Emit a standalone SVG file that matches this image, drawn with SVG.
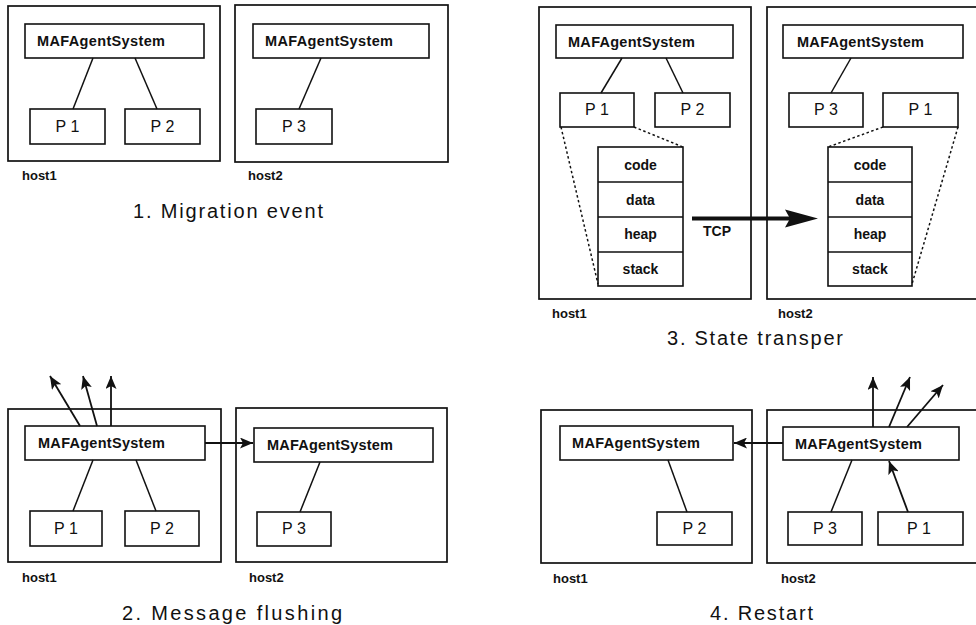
<svg xmlns="http://www.w3.org/2000/svg" width="976" height="625" viewBox="0 0 976 625">
  <style>
    .box { fill: #fff; stroke: #111; stroke-width: 1.6; }
    .host { fill: none; stroke: #111; stroke-width: 1.7; }
    .link { stroke: #111; stroke-width: 1.5; fill: none; }
    .arrow { stroke: #111; stroke-width: 1.8; fill: none; marker-end: url(#head); }
    .dot { stroke: #111; stroke-width: 1.5; fill: none; stroke-dasharray: 2.5 2.5; }
    .mas { font-family: "Liberation Sans", Arial, sans-serif; font-size: 14.5px; font-weight: bold; fill: #111; }
    .proc { font-family: "Liberation Sans", Arial, sans-serif; font-size: 16px; fill: #111; text-anchor: middle; }
    .seg { font-family: "Liberation Sans", Arial, sans-serif; font-size: 14px; font-weight: bold; fill: #111; text-anchor: middle; }
    .hostlbl { font-family: "Liberation Sans", Arial, sans-serif; font-size: 13px; font-weight: bold; fill: #111; }
    .cap { font-family: "Liberation Sans", Arial, sans-serif; font-size: 20px; fill: #111; }
  </style>
  <defs>
    <marker id="head" viewBox="0 0 13 11" refX="13" refY="5.5" markerWidth="13" markerHeight="11" markerUnits="userSpaceOnUse" orient="auto">
      <path d="M0,0 L13,5.5 L0,11 L3,5.5 z" fill="#111"/>
    </marker>
  </defs>
  <rect x="0" y="0" width="976" height="625" fill="#fff"/>

  <!-- 1. Migration event -->
  <g id="s1-host1">
    <rect class="host" x="8" y="6" width="212" height="155"/>
    <text class="hostlbl" x="22" y="180">host1</text>
  </g>
  <g id="s1-host1-mas">
    <rect class="box" x="25" y="24" width="179" height="34"/>
    <text class="mas" x="37" y="46" textLength="128" lengthAdjust="spacing">MAFAgentSystem</text>
  </g>
  <g id="s1-host1-p1">
    <rect class="box" x="30" y="109" width="75" height="35"/>
    <text class="proc" x="67.5" y="132" textLength="24" lengthAdjust="spacing">P1</text>
  </g>
  <g id="s1-host1-p2">
    <rect class="box" x="125" y="109" width="75" height="35"/>
    <text class="proc" x="162.5" y="132" textLength="24" lengthAdjust="spacing">P2</text>
  </g>
  <g id="s1-host2">
    <rect class="host" x="235" y="5" width="213" height="157"/>
    <text class="hostlbl" x="248" y="180">host2</text>
  </g>
  <g id="s1-host2-mas">
    <rect class="box" x="253" y="24" width="176" height="34"/>
    <text class="mas" x="265" y="46" textLength="128" lengthAdjust="spacing">MAFAgentSystem</text>
  </g>
  <g id="s1-host2-p3">
    <rect class="box" x="256" y="109" width="76" height="35"/>
    <text class="proc" x="294" y="132" textLength="24" lengthAdjust="spacing">P3</text>
  </g>
  <text class="cap" x="133" y="218" textLength="190" lengthAdjust="spacing">1. Migration event</text>

  <!-- 3. State transfer -->
  <g id="s3-host1">
    <rect class="host" x="539" y="7" width="212" height="292"/>
    <text class="hostlbl" x="552" y="318">host1</text>
  </g>
  <g id="s3-host1-mas">
    <rect class="box" x="556" y="25" width="177" height="33"/>
    <text class="mas" x="568" y="47" textLength="127" lengthAdjust="spacing">MAFAgentSystem</text>
  </g>
  <g id="s3-host1-p1">
    <rect class="box" x="560" y="93" width="74" height="34"/>
    <text class="proc" x="597" y="115" textLength="24" lengthAdjust="spacing">P1</text>
  </g>
  <g id="s3-host1-p2">
    <rect class="box" x="655" y="93" width="75" height="34"/>
    <text class="proc" x="692.5" y="115" textLength="24" lengthAdjust="spacing">P2</text>
  </g>
  <g id="s3-host1-image">
    <rect class="box" x="598" y="147" width="85" height="139"/>
    <path class="link" d="M598,182 H683 M598,217 H683 M598,252 H683"/>
    <text class="seg" x="640.5" y="170">code</text>
    <text class="seg" x="640.5" y="205">data</text>
    <text class="seg" x="640.5" y="239">heap</text>
    <text class="seg" x="640.5" y="274">stack</text>
  </g>
  <g id="s3-host2">
    <rect class="host" x="767" y="7" width="220" height="292"/>
    <text class="hostlbl" x="778" y="318">host2</text>
  </g>
  <g id="s3-host2-mas">
    <rect class="box" x="783" y="25" width="180" height="33"/>
    <text class="mas" x="797" y="47" textLength="127" lengthAdjust="spacing">MAFAgentSystem</text>
  </g>
  <g id="s3-host2-p3">
    <rect class="box" x="789" y="93" width="74" height="34"/>
    <text class="proc" x="826" y="115" textLength="24" lengthAdjust="spacing">P3</text>
  </g>
  <g id="s3-host2-p1">
    <rect class="box" x="883" y="93" width="75" height="34"/>
    <text class="proc" x="920.5" y="115" textLength="24" lengthAdjust="spacing">P1</text>
  </g>
  <g id="s3-host2-image">
    <rect class="box" x="828" y="147" width="84" height="139"/>
    <path class="link" d="M828,182 H912 M828,217 H912 M828,252 H912"/>
    <text class="seg" x="870" y="170">code</text>
    <text class="seg" x="870" y="205">data</text>
    <text class="seg" x="870" y="239">heap</text>
    <text class="seg" x="870" y="274">stack</text>
  </g>
  <text class="cap" x="667" y="345" textLength="176" lengthAdjust="spacing">3. State transper</text>

  <!-- 2. Message flushing -->
  <g id="s2-host1">
    <rect class="host" x="8" y="409" width="213" height="153"/>
    <text class="hostlbl" x="22" y="582">host1</text>
  </g>
  <g id="s2-host1-mas">
    <rect class="box" x="25" y="426" width="180" height="34"/>
    <text class="mas" x="38" y="448" textLength="127" lengthAdjust="spacing">MAFAgentSystem</text>
  </g>
  <g id="s2-host1-p1">
    <rect class="box" x="30" y="511" width="72" height="35"/>
    <text class="proc" x="66" y="534" textLength="24" lengthAdjust="spacing">P1</text>
  </g>
  <g id="s2-host1-p2">
    <rect class="box" x="125" y="511" width="74" height="35"/>
    <text class="proc" x="162" y="534" textLength="24" lengthAdjust="spacing">P2</text>
  </g>
  <g id="s2-host2">
    <rect class="host" x="236" y="408" width="211" height="154"/>
    <text class="hostlbl" x="249" y="582">host2</text>
  </g>
  <g id="s2-host2-mas">
    <rect class="box" x="254" y="428" width="179" height="34"/>
    <text class="mas" x="267" y="450" textLength="126" lengthAdjust="spacing">MAFAgentSystem</text>
  </g>
  <g id="s2-host2-p3">
    <rect class="box" x="257" y="512" width="74" height="34"/>
    <text class="proc" x="294" y="534" textLength="24" lengthAdjust="spacing">P3</text>
  </g>
  <text class="cap" x="122" y="620" textLength="220" lengthAdjust="spacing">2. Message flushing</text>

  <!-- 4. Restart -->
  <g id="s4-host1">
    <rect class="host" x="541" y="410" width="211" height="153"/>
    <text class="hostlbl" x="553" y="583">host1</text>
  </g>
  <g id="s4-host1-mas">
    <rect class="box" x="560" y="426" width="173" height="34"/>
    <text class="mas" x="572" y="448" textLength="128" lengthAdjust="spacing">MAFAgentSystem</text>
  </g>
  <g id="s4-host1-p2">
    <rect class="box" x="657" y="512" width="75" height="33"/>
    <text class="proc" x="694.5" y="534" textLength="24" lengthAdjust="spacing">P2</text>
  </g>
  <g id="s4-host2">
    <rect class="host" x="767" y="410" width="220" height="153"/>
    <text class="hostlbl" x="781" y="583">host2</text>
  </g>
  <g id="s4-host2-mas">
    <rect class="box" x="783" y="427" width="176" height="33"/>
    <text class="mas" x="795" y="449" textLength="127" lengthAdjust="spacing">MAFAgentSystem</text>
  </g>
  <g id="s4-host2-p3">
    <rect class="box" x="788" y="512" width="74" height="33"/>
    <text class="proc" x="825" y="534" textLength="24" lengthAdjust="spacing">P3</text>
  </g>
  <g id="s4-host2-p1">
    <rect class="box" x="878" y="512" width="85" height="33"/>
    <text class="proc" x="919" y="534" textLength="24" lengthAdjust="spacing">P1</text>
  </g>
  <text class="cap" x="710" y="620" textLength="103" lengthAdjust="spacing">4. Restart</text>

  <!-- connectors -->
  <g id="connectors">
    <!-- 1 -->
    <line class="link" x1="93" y1="58" x2="73" y2="109"/>
    <line class="link" x1="135" y1="58" x2="157" y2="109"/>
    <line class="link" x1="321" y1="58" x2="299" y2="109"/>
    <!-- 3 -->
    <line class="link" x1="622" y1="58" x2="601" y2="93"/>
    <line class="link" x1="666" y1="58" x2="683" y2="93"/>
    <line class="link" x1="851" y1="58" x2="831" y2="93"/>
    <line class="dot" x1="561" y1="127" x2="598" y2="284"/>
    <line class="dot" x1="634" y1="127" x2="683" y2="147"/>
    <line class="dot" x1="883" y1="127" x2="828" y2="147"/>
    <line class="dot" x1="958" y1="127" x2="912" y2="284"/>
    <line x1="692" y1="218.5" x2="790" y2="218.5" stroke="#111" stroke-width="4"/>
    <polygon points="785,209.5 818,218.5 785,227.5 790,218.5" fill="#111"/>
    <text class="seg" x="717" y="236">TCP</text>
    <!-- 2 -->
    <line class="link" x1="93" y1="460" x2="73" y2="511"/>
    <line class="link" x1="136" y1="460" x2="156" y2="511"/>
    <line class="link" x1="320" y1="462" x2="300" y2="512"/>
    <line class="arrow" x1="80" y1="426" x2="50" y2="376"/>
    <line class="arrow" x1="97" y1="426" x2="83" y2="376"/>
    <line class="arrow" x1="111" y1="426" x2="111" y2="376"/>
    <line class="arrow" x1="205" y1="443" x2="253" y2="443"/>
    <!-- 4 -->
    <line class="link" x1="668" y1="460" x2="687" y2="512"/>
    <line class="link" x1="852" y1="460" x2="831" y2="512"/>
    <line class="arrow" x1="783" y1="443" x2="734" y2="443"/>
    <line class="arrow" x1="908" y1="512" x2="889" y2="461"/>
    <line class="arrow" x1="873" y1="427" x2="873" y2="377"/>
    <line class="arrow" x1="889" y1="427" x2="910" y2="377"/>
    <line class="arrow" x1="907" y1="427" x2="943" y2="385"/>
  </g>
</svg>
